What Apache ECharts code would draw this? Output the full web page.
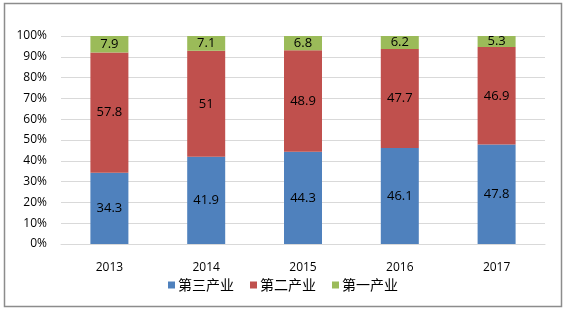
<!DOCTYPE html>
<html>
<head>
<meta charset="utf-8">
<script src="https://cdn.jsdelivr.net/npm/echarts@6/dist/echarts.min.js"></script>
<style>
html,body{margin:0;padding:0;background:#fff;}
#main{width:566px;height:312px;}
</style>
</head>
<body>
<div id="main"></div>
<script>
// 年份
var years = ['2013', '2014', '2015', '2016', '2017'];
// 三大产业占比
var tertiary = [34.3, 41.9, 44.3, 46.1, 47.8];
var secondary = [57.8, 51, 48.9, 47.7, 46.9];
var primary = [7.9, 7.1, 6.8, 6.2, 5.3];

var myChart = echarts.init(document.getElementById('main'));

var labelStyle = {
	show: true,
	position: 'inside',
	color: '#000',
	fontSize: 13,
	fontFamily: 'Open Sans'
};

var option = {
	textStyle: {
		fontFamily: '"Open Sans", "Noto Sans CJK SC"'
	},
	// 外框
	graphic: [{
		type: 'rect',
		shape: {x: 4.5, y: 3.5, width: 557, height: 303},
		style: {fill: 'none', stroke: '#8c8c8c', lineWidth: 1.5},
		silent: true
	}],
	grid: {
		left: 61,
		right: 21,
		top: 36,
		bottom: 68
	},
	legend: {
		bottom: 15,
		left: 'center',
		itemWidth: 7,
		itemHeight: 7,
		itemGap: 16,
		icon: 'rect',
		textStyle: {
			color: '#000',
			fontSize: 14,
			fontFamily: '"Noto Sans CJK SC"',
			padding: [0, 0, 0, -2]
		},
		data: ['第三产业', '第二产业', '第一产业']
	},
	xAxis: {
		type: 'category',
		data: years,
		axisLine: {lineStyle: {color: '#d9d9d9'}},
		axisTick: {show: false},
		axisLabel: {color: '#000', fontSize: 12, margin: 18}
	},
	yAxis: {
		type: 'value',
		min: 0,
		max: 100,
		interval: 10,
		axisLine: {show: false},
		axisTick: {show: false},
		splitLine: {lineStyle: {color: '#d9d9d9'}},
		axisLabel: {color: '#000', fontSize: 12, margin: 14, formatter: '{value}%'}
	},
	series: [{
		name: '第三产业',
		type: 'bar',
		stack: 'total',
		barWidth: 38,
		itemStyle: {color: '#4F81BD'},
		label: labelStyle,
		data: tertiary
	}, {
		name: '第二产业',
		type: 'bar',
		stack: 'total',
		barWidth: 38,
		itemStyle: {color: '#C0504D'},
		label: labelStyle,
		data: secondary
	}, {
		name: '第一产业',
		type: 'bar',
		stack: 'total',
		barWidth: 38,
		itemStyle: {color: '#9BBB59'},
		label: labelStyle,
		data: primary
	}]
};
myChart.setOption(option);
</script>
</body>
</html>
